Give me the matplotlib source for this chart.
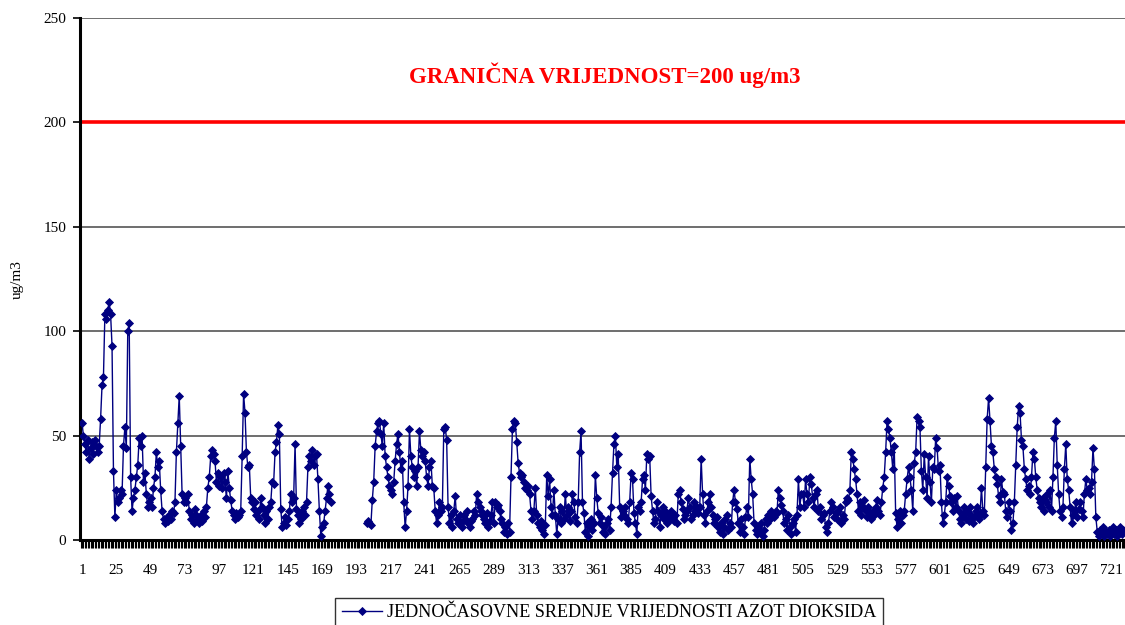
import numpy as np
import matplotlib.pyplot as plt
from matplotlib.ticker import FixedLocator, MultipleLocator

nan = np.nan

# hourly NO2 means, one list per day (24 values)
day01 = [56, 50, 46, 42, 48, 39, 44, 47, 41, 48, 45, 42, 45, 58, 74, 78, 108, 106, 110, 114, 108, 93, 33, 11]
day02 = [24, 18, 20, 24, 22, 45, 54, 44, 100, 104, 30, 14, 20, 24, 30, 36, 49, 45, 50, 28, 32, 22, 16, 18]
day03 = [20, 16, 25, 30, 42, 35, 38, 24, 14, 10, 8, 10, 9, 12, 10, 14, 13, 18, 42, 56, 69, 45, 22, 18]
day04 = [20, 18, 22, 14, 10, 12, 8, 15, 12, 10, 8, 12, 9, 14, 11, 16, 25, 30, 40, 43, 41, 38, 28, 32]
day05 = [26, 30, 25, 32, 28, 20, 33, 25, 19, 14, 12, 10, 13, 11, 12, 14, 40, 70, 61, 42, 35, 36, 20, 18]
day06 = [15, 18, 12, 14, 10, 20, 16, 12, 8, 14, 10, 16, 18, 28, 27, 42, 47, 55, 51, 15, 6, 8, 11, 7]
day07 = [10, 14, 22, 18, 20, 46, 15, 12, 8, 10, 14, 16, 12, 18, 35, 40, 38, 43, 36, 40, 41, 29, 14, 2]
day08 = [6, 8, 14, 20, 26, 22, 18] + [nan] * 17
day09 = [nan] * 7 + [8, 9, 8, 7, 19, 28, 45, 52, 56, 57, 51, 45, 56, 40, 35, 30, 26]
day10 = [24, 22, 28, 38, 46, 51, 42, 34, 38, 18, 6, 14, 26, 53, 40, 35, 30, 33, 26, 35, 52, 43, 40, 42]
day11 = [38, 30, 26, 35, 38, 26, 25, 14, 8, 12, 18, 14, 16, 53, 54, 48, 16, 8, 12, 6, 14, 21, 10, 8]
day12 = [12, 8, 6, 12, 10, 14, 8, 6, 9, 10, 14, 12, 22, 18, 16, 14, 12, 10, 8, 13, 6, 9, 12, 18]
day13 = [8, 18, 16, 17, 14, 10, 8, 4, 6, 3, 8, 4, 30, 53, 57, 56, 47, 37, 32, 30, 31, 28, 25, 24]
day14 = [26, 22, 14, 10, 14, 25, 12, 8, 6, 9, 5, 3, 7, 31, 21, 29, 16, 12, 24, 12, 3, 10, 16, 8]
day15 = [14, 10, 22, 12, 16, 9, 14, 22, 18, 11, 8, 18, 42, 52, 18, 13, 4, 8, 2, 6, 10, 5, 8, 31]
day16 = [20, 13, 8, 11, 4, 6, 3, 8, 10, 5, 16, 32, 46, 50, 35, 41, 16, 11, 14, 12, 16, 10, 8, 18]
day17 = [32, 29, 13, 8, 3, 16, 14, 18, 29, 31, 24, 41, 39, 40, 21, 14, 8, 10, 18, 14, 6, 12, 16, 10]
day18 = [14, 8, 12, 10, 14, 11, 9, 12, 8, 22, 24, 18, 15, 10, 12, 14, 20, 16, 10, 12, 18, 14, 16, 13]
day19 = [16, 39, 22, 12, 8, 14, 18, 22, 16, 12, 8, 10, 11, 6, 4, 8, 3, 6, 10, 12, 5, 8, 6, 18]
day20 = [24, 18, 15, 8, 4, 10, 6, 3, 11, 16, 11, 39, 29, 22, 8, 5, 3, 6, 4, 8, 2, 5, 10, 8]
day21 = [12, 10, 14, 12, 11, 14, 13, 24, 20, 17, 14, 8, 10, 5, 12, 6, 3, 8, 10, 4, 12, 29, 16, 22]
day22 = [22, 16, 29, 22, 18, 30, 27, 20, 16, 22, 24, 14, 16, 10, 12, 13, 6, 4, 8, 14, 18, 16, 11, 13]
day23 = [10, 14, 16, 8, 12, 10, 18, 20, 19, 24, 42, 39, 34, 29, 22, 14, 18, 12, 16, 19, 14, 11, 16, 13]
day24 = [10, 14, 12, 16, 19, 14, 12, 18, 25, 30, 42, 57, 53, 49, 42, 34, 45, 13, 6, 10, 14, 8, 12, 14]
day25 = [22, 29, 35, 30, 24, 14, 37, 42, 59, 57, 54, 33, 24, 41, 30, 20, 40, 28, 18, 35, 34, 49, 44, 33]
day26 = [36, 18, 8, 12, 18, 30, 26, 21, 18, 14, 20, 16, 21, 14, 10, 8, 12, 16, 10, 14, 9, 16, 12, 8]
day27 = [11, 14, 16, 10, 12, 25, 14, 12, 35, 58, 68, 57, 45, 42, 34, 30, 27, 21, 18, 29, 23, 22, 14, 11]
day28 = [18, 14, 5, 8, 18, 36, 54, 64, 61, 48, 45, 34, 29, 24, 26, 22, 30, 42, 39, 30, 24, 20, 18, 16]
day29 = [20, 14, 18, 22, 16, 24, 14, 30, 49, 57, 36, 22, 14, 11, 16, 34, 46, 29, 24, 16, 8, 12, 14, 18]
day30 = [11, 15, 18, 14, 11, 22, 29, 24, 25, 22, 28, 44, 34, 11, 4, 2, 5, 3, 6, 2, 4, 3, 5, 2]
day31 = [4, 6, 3, 5, 2, 4, 6, 3, 5]

no2 = np.array(day01 + day02 + day03 + day04 + day05 + day06 + day07 + day08
               + day09 + day10 + day11 + day12 + day13 + day14 + day15 + day16
               + day17 + day18 + day19 + day20 + day21 + day22 + day23 + day24
               + day25 + day26 + day27 + day28 + day29 + day30 + day31, dtype=float)
hours = np.arange(1, len(no2) + 1)

limit_value = 200
limit_text = "GRANIČNA VRIJEDNOST=200 ug/m3"
series_label = "JEDNOČASOVNE SREDNJE VRIJEDNOSTI AZOT DIOKSIDA"
xtick_values = list(range(1, 722, 24))
ytick_values = [0, 50, 100, 150, 200, 250]

plt.rcParams['font.family'] = ['Liberation Serif', 'DejaVu Serif']

W, H = 1125, 625
fig = plt.figure(figsize=(W / 100, H / 100), dpi=100)
ax = fig.add_axes([80 / W, 85 / H, 1045 / W, 522 / H])

# horizontal gridlines
for yv in ytick_values[1:]:
    if yv != limit_value:
        ax.axhline(yv, color='#555555', lw=1.2, zorder=1)
ax.axhline(limit_value, color='red', lw=2.6, zorder=2)

ax.plot(hours, no2, color='#000080', lw=1, marker='D', ms=4.2,
        markeredgewidth=0.6, label=series_label, zorder=3)

ax.text(0.502, 0.891, limit_text, transform=ax.transAxes, color='red',
        fontsize=16.5, fontweight='bold', ha='center', va='center')

ax.set_xlim(-0.4, 730.4)
ax.set_ylim(0, 250)
ax.yaxis.set_major_locator(FixedLocator(ytick_values))
ax.xaxis.set_major_locator(FixedLocator(xtick_values))
ax.xaxis.set_minor_locator(MultipleLocator(1))
ax.set_xticklabels([str(v) for v in xtick_values])

for side in ['top', 'right']:
    ax.spines[side].set_visible(False)
for side in ['left', 'bottom']:
    ax.spines[side].set_linewidth(2.2)
    ax.spines[side].set_color('black')

ax.tick_params(axis='y', direction='out', length=5, width=1.2, pad=5, labelsize=11)
ax.tick_params(axis='x', which='major', direction='out', length=6, width=1, pad=11, labelsize=11)
ax.tick_params(axis='x', which='minor', direction='out', length=6, width=0.8)

ax.set_ylabel("ug/m3", fontsize=11)
ax.yaxis.set_label_coords(-0.054, 0.498)

leg = fig.legend(loc='upper center', bbox_to_anchor=(609 / W, 1 - 598 / H),
                 frameon=True, fancybox=False, fontsize=13.1, handlelength=2.2,
                 borderpad=0.35, handletextpad=0.3, borderaxespad=0)
leg.get_frame().set_edgecolor('black')
leg.get_frame().set_linewidth(1)

fig.savefig("out.png", dpi=100)
